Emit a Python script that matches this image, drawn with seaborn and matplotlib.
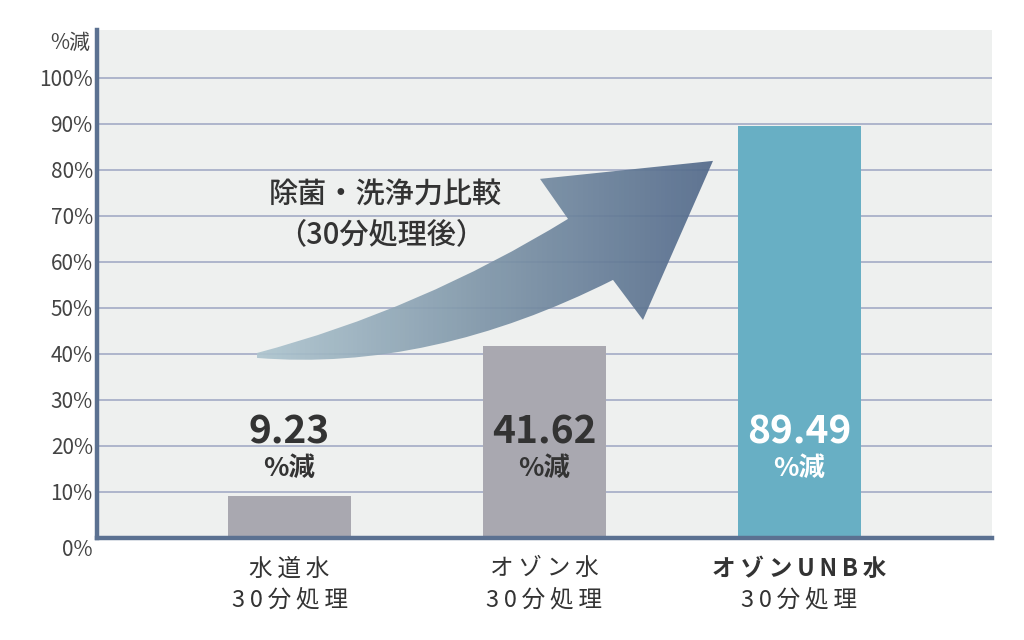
import numpy as np
import matplotlib
matplotlib.use("Agg")
import matplotlib.pyplot as plt
import matplotlib.transforms as mtransforms
from matplotlib.path import Path
from matplotlib.patches import PathPatch
import seaborn as sns

categories = ["水道水", "オゾン水", "オゾンUNB水"]
sublabels = ["30分処理", "30分処理", "30分処理"]
values = [9.23, 41.62, 89.49]
value_labels = ["9.23", "41.62", "89.49"]
bar_colors = ["#a9a8b0", "#a9a8b0", "#68afc4"]
label_colors = ["#333333", "#333333", "#ffffff"]
yticks = [0, 10, 20, 30, 40, 50, 60, 70, 80, 90, 100]
ytick_labels = [f"{v}%" for v in yticks]

sns.set_theme(style="white")
plt.rcParams["font.family"] = ["Noto Sans CJK JP", "DejaVu Sans"]

SP = "\u2009"  # letter spacing for the category labels


def spaced(s):
    return SP.join(s)


fig = plt.figure(figsize=(10.24, 6.4), dpi=100)
ax = fig.add_axes([97 / 1024, 1 - 538 / 640, (992 - 97) / 1024, (538 - 30) / 640])
ax.set_facecolor("#eef0ef")

sns.barplot(x=categories, y=values, hue=categories, palette=bar_colors,
            width=0.48, legend=False, ax=ax, zorder=3, saturation=1,
            linewidth=0, edgecolor="none")

ax.set_xlim(-0.755, 2.755)
ax.set_ylim(0, 110.4)
ax.set_yticks(yticks)
# the 0% label sits a bit below the axis line, drawn separately
ax.set_yticklabels([""] + ytick_labels[1:], fontsize=15, color="#444444")
ax.annotate(ytick_labels[0], xy=(0, 0), xycoords="axes fraction",
            xytext=(-3, -9), textcoords="offset points", ha="right", va="center",
            fontsize=15, color="#444444")
for v in yticks[1:]:
    ax.axhline(v, color="#a9b0c9", lw=1.3, zorder=1)
ax.tick_params(axis="both", length=0)
ax.tick_params(axis="y", pad=3)
ax.tick_params(axis="x", pad=14)
ax.set_xticks(range(len(categories)))
ax.set_xticklabels([spaced(c) for c in categories], fontsize=17, color="#333333")
ax.get_xticklabels()[2].set_fontweight("bold")
ax.set_xlabel("")
ax.set_ylabel("")

trans = mtransforms.blended_transform_factory(ax.transData, ax.transAxes)
for i, s in enumerate(sublabels):
    ax.text(i, -0.122, spaced(s), transform=trans, ha="center", va="center",
            fontsize=17, color="#333333")

for s in ["top", "right"]:
    ax.spines[s].set_visible(False)
for s in ["left", "bottom"]:
    ax.spines[s].set_color("#5b7191")
    ax.spines[s].set_linewidth(3.2)
    ax.spines[s].set_zorder(5)

ax.text(-0.008, 0.975, "%減", transform=ax.transAxes, ha="right", va="center",
        fontsize=15, color="#444444")

# value labels
for i, (lab, c) in enumerate(zip(value_labels, label_colors)):
    ax.text(i, 23.0, lab, ha="center", va="center", fontsize=28,
            fontweight="bold", color=c, zorder=6)
    ax.text(i, 15.2, "%減", ha="center", va="center", fontsize=19,
            fontweight="bold", color=c, zorder=6)


# curved gradient arrow (figure pixel coordinates -> data)
def px(x, y):
    return ((x - 289.5) / 255.0, (538 - y) / 4.6)


verts = [px(257, 353), px(420, 310), px(568, 219),
         px(540, 179), px(713, 161), px(643, 320),
         px(613, 280), px(430, 372), px(257, 358), px(257, 353)]
codes = [Path.MOVETO, Path.CURVE3, Path.CURVE3,
         Path.LINETO, Path.LINETO, Path.LINETO,
         Path.LINETO, Path.CURVE3, Path.CURVE3, Path.CLOSEPOLY]
arrow = PathPatch(Path(verts, codes), facecolor="none", edgecolor="none")
ax.add_patch(arrow)
x0, y0 = px(257, 0)
x1, _ = px(713, 0)
grad = np.linspace(0, 1, 256).reshape(1, -1)
cmap = matplotlib.colors.LinearSegmentedColormap.from_list(
    "arr", ["#aec5cf", "#7e95a8", "#52698a"])
img = ax.imshow(grad, cmap=cmap, aspect="auto", alpha=0.92,
                extent=[x0, x1, px(0, 360)[1], px(0, 155)[1]], zorder=4)
img.set_clip_path(arrow)
ax.set_xlim(-0.755, 2.755)
ax.set_ylim(0, 110.4)

ax.text(px(385, 0)[0], px(0, 195)[1], "除菌・洗浄力比較", ha="center", va="center",
        fontsize=21, color="#333333", zorder=6, fontweight="medium")
ax.text(px(381, 0)[0], px(0, 235)[1], "（30分処理後）", ha="center", va="center",
        fontsize=21, color="#333333", zorder=6, fontweight="medium")

fig.savefig("out.png", dpi=100, facecolor="white")
